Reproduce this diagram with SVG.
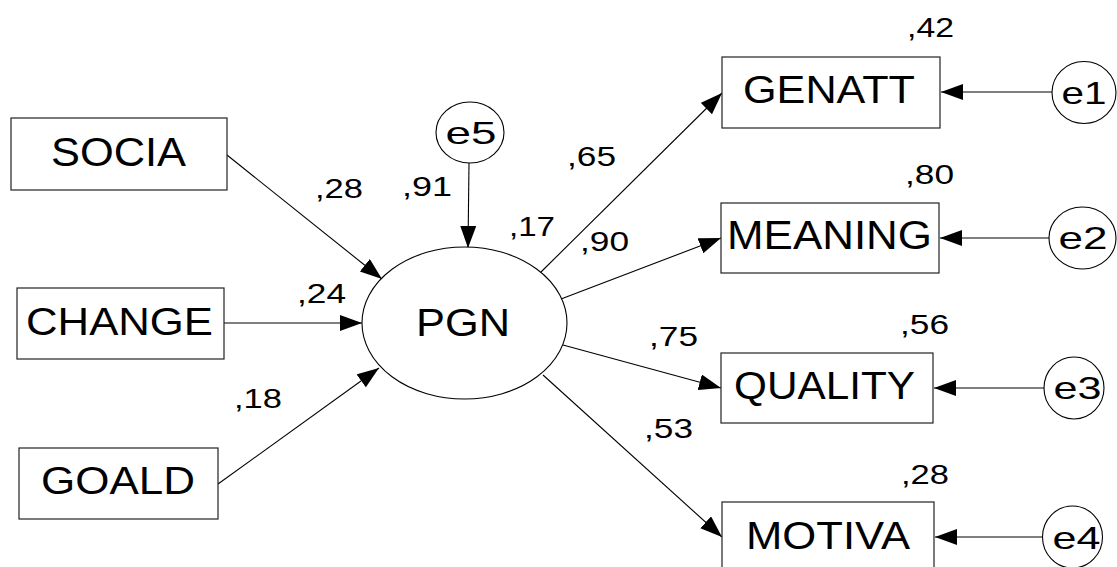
<svg xmlns="http://www.w3.org/2000/svg" width="1117" height="567" viewBox="0 0 1117 567">
  <style>
    .box { fill: #ffffff; stroke: #222222; stroke-width: 1.2; }
    .lat { fill: #ffffff; stroke: #000000; stroke-width: 1.1; }
    .lbl { font-family: "Liberation Sans", Arial, sans-serif; fill: #000000; text-anchor: middle; }
    .big { font-size: 38px; }
    .err { font-size: 32px; }
    .coef { font-family: "Liberation Sans", Arial, sans-serif; font-size: 28px; fill: #000000; }
    .path { stroke: #000000; stroke-width: 1.1; fill: none; marker-end: url(#head); }
  </style>
  <defs>
    <marker id="head" markerUnits="userSpaceOnUse" markerWidth="23" markerHeight="17" refX="22" refY="8" orient="auto">
      <path d="M0,0 L22,8 L0,16 Z" fill="#000000"/>
    </marker>
  </defs>
  <rect width="1117" height="567" fill="#ffffff"/>

  <!-- regression paths and error terms -->
  <g id="connectors">
    <line class="path" x1="227" y1="155" x2="382" y2="279"/>
    <line class="path" x1="224" y1="323" x2="362" y2="323"/>
    <line class="path" x1="218" y1="484" x2="379" y2="368"/>
    <line class="path" x1="469" y1="163" x2="468" y2="248"/>
    <line class="path" x1="541" y1="272" x2="722" y2="93"/>
    <line class="path" x1="561" y1="299" x2="721" y2="238"/>
    <line class="path" x1="563" y1="345" x2="721" y2="388"/>
    <line class="path" x1="543" y1="375" x2="722" y2="537"/>
    <line class="path" x1="1052" y1="92" x2="941" y2="92"/>
    <line class="path" x1="1049" y1="238" x2="940" y2="238"/>
    <line class="path" x1="1044" y1="388" x2="934" y2="388"/>
    <line class="path" x1="1043" y1="537" x2="935" y2="537"/>
  </g>

  <!-- observed predictors -->
  <g id="socia">
    <rect class="box" x="11" y="118" width="216" height="72"/>
    <text class="lbl" x="118.5" y="166" font-size="40" textLength="135" lengthAdjust="spacingAndGlyphs">SOCIA</text>
  </g>
  <g id="change">
    <rect class="box" x="17" y="288" width="207" height="71"/>
    <text class="lbl big" x="119.5" y="335" textLength="187" lengthAdjust="spacingAndGlyphs">CHANGE</text>
  </g>
  <g id="goald">
    <rect class="box" x="19" y="448" width="199" height="71"/>
    <text class="lbl big" x="118" y="494" textLength="154" lengthAdjust="spacingAndGlyphs">GOALD</text>
  </g>

  <!-- latent factor -->
  <g id="pgn">
    <ellipse class="lat" cx="464.5" cy="323" rx="102.5" ry="76"/>
    <text class="lbl big" x="463" y="336" textLength="94" lengthAdjust="spacingAndGlyphs">PGN</text>
  </g>
  <g id="e5">
    <ellipse class="lat" cx="470" cy="132.5" rx="34" ry="30.5"/>
    <text class="lbl err" x="471" y="144" textLength="51" lengthAdjust="spacingAndGlyphs">e5</text>
  </g>

  <!-- indicators -->
  <g id="genatt">
    <rect class="box" x="722" y="57" width="218" height="71"/>
    <text class="lbl big" x="829" y="103" textLength="172" lengthAdjust="spacingAndGlyphs">GENATT</text>
  </g>
  <g id="meaning">
    <rect class="box" x="721" y="203" width="218" height="70"/>
    <text class="lbl" x="829.5" y="249" font-size="40" textLength="205" lengthAdjust="spacingAndGlyphs">MEANING</text>
  </g>
  <g id="quality">
    <rect class="box" x="721" y="353" width="212" height="70"/>
    <text class="lbl" x="824.5" y="399" font-size="39" textLength="181" lengthAdjust="spacingAndGlyphs">QUALITY</text>
  </g>
  <g id="motiva">
    <rect class="box" x="722" y="502" width="212" height="71"/>
    <text class="lbl" x="828" y="549" font-size="39" textLength="164" lengthAdjust="spacingAndGlyphs">MOTIVA</text>
  </g>

  <!-- indicator error terms -->
  <g id="e1">
    <ellipse class="lat" cx="1084" cy="92.5" rx="32" ry="31"/>
    <text class="lbl err" x="1084" y="104" textLength="45" lengthAdjust="spacingAndGlyphs">e1</text>
  </g>
  <g id="e2">
    <ellipse class="lat" cx="1082.5" cy="238" rx="33.5" ry="31"/>
    <text class="lbl err" x="1083" y="249" textLength="49" lengthAdjust="spacingAndGlyphs">e2</text>
  </g>
  <g id="e3">
    <ellipse class="lat" cx="1074" cy="388" rx="30" ry="31"/>
    <text class="lbl err" x="1077.5" y="399" textLength="48" lengthAdjust="spacingAndGlyphs">e3</text>
  </g>
  <g id="e4">
    <ellipse class="lat" cx="1072.5" cy="537" rx="30" ry="31"/>
    <text class="lbl err" x="1076.5" y="549" textLength="48" lengthAdjust="spacingAndGlyphs">e4</text>
  </g>

  <!-- standardized estimates and squared multiple correlations -->
  <g id="estimates">
    <text class="coef" x="315" y="198" textLength="48" lengthAdjust="spacingAndGlyphs">,28</text>
    <text class="coef" x="297" y="303" textLength="49" lengthAdjust="spacingAndGlyphs">,24</text>
    <text class="coef" x="234" y="408" textLength="48" lengthAdjust="spacingAndGlyphs">,18</text>
    <text class="coef" x="402" y="196" textLength="50" lengthAdjust="spacingAndGlyphs">,91</text>
    <text class="coef" x="509" y="236" textLength="46" lengthAdjust="spacingAndGlyphs">,17</text>
    <text class="coef" x="567" y="166" textLength="49" lengthAdjust="spacingAndGlyphs">,65</text>
    <text class="coef" x="580" y="251" textLength="49" lengthAdjust="spacingAndGlyphs">,90</text>
    <text class="coef" x="649" y="346" textLength="49" lengthAdjust="spacingAndGlyphs">,75</text>
    <text class="coef" x="644" y="438" textLength="49" lengthAdjust="spacingAndGlyphs">,53</text>
    <text class="coef" x="907" y="37" textLength="47" lengthAdjust="spacingAndGlyphs">,42</text>
    <text class="coef" x="905" y="184" textLength="49" lengthAdjust="spacingAndGlyphs">,80</text>
    <text class="coef" x="900" y="334" textLength="49" lengthAdjust="spacingAndGlyphs">,56</text>
    <text class="coef" x="901" y="484" textLength="48" lengthAdjust="spacingAndGlyphs">,28</text>
  </g>
</svg>
